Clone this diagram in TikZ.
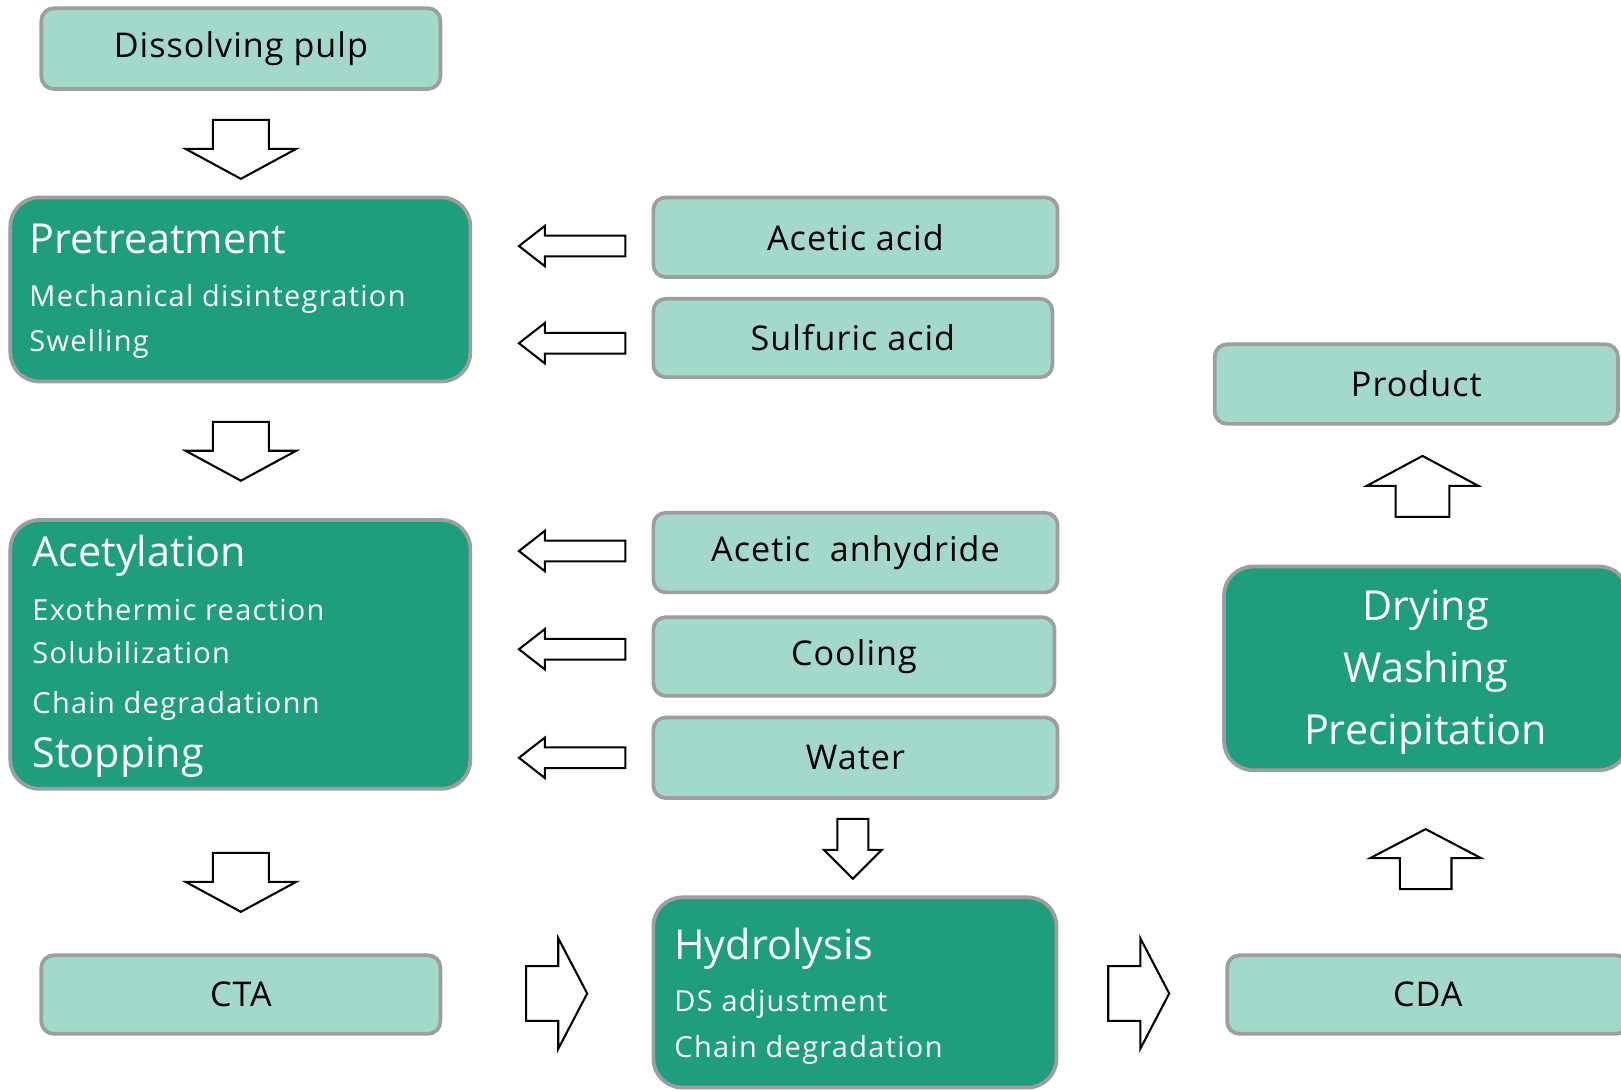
\documentclass[tikz,border=0pt]{standalone}
\usepackage{fontspec}
\setmainfont{Open Sans}
\newfontfamily\lightfont[LetterSpace=3]{Open Sans}
\newfontfamily\subfont[LetterSpace=4.5]{Open Sans}
\definecolor{lightg}{RGB}{163,217,203}
\definecolor{darkg}{RGB}{30,158,124}
\definecolor{bord}{RGB}{158,158,158}
\tikzset{
  lbox/.style={draw=bord, line width=1.8pt, fill=lightg, rounded corners=6pt, inner sep=0pt, outer sep=0pt, text=black, font=\lightfont\fontsize{16.5}{18}\selectfont},
  dbox/.style={draw=bord, line width=1.8pt, fill=darkg, rounded corners=14pt, inner sep=0pt, outer sep=0pt},
  ttl/.style={text=white, anchor=base west, inner sep=0pt, font=\fontsize{20}{22}\selectfont},
  sub/.style={text=white, anchor=base west, inner sep=0pt, font=\subfont\fontsize{14}{16}\selectfont},
  ctr/.style={text=white, anchor=base, inner sep=0pt, font=\fontsize{20}{22}\selectfont},
  blk/.style={draw=black, line width=1pt, fill=white, line join=miter}
}
% box from corners: style, name, x1, y1, x2, y2, text
\newcommand{\bx}[7]{%
  \node[#1, minimum width={(#5-#3)*0.5pt}, minimum height={(#6-#4)*0.5pt}]
    (#2) at ({(#3+#5)/2},{(#4+#6)/2}) {#7};}
% tip x, tip y, rotation, head length, head half width, shaft length, shaft half width
\newcommand{\barrow}[7]{%
  \draw[blk, shift={(#1,#2)}, rotate=#3] (0,0) -- (-#4,#5) -- (-#4,#7) -- (-#4-#6,#7)
    -- (-#4-#6,-#7) -- (-#4,-#7) -- (-#4,-#5) -- cycle;}
\begin{document}
\begin{tikzpicture}[x=0.5pt, y=-0.5pt]
\useasboundingbox (0,0) rectangle (1568,1055);
\clip (0,0) rectangle (1568,1055);
\fill[white] (0,0) rectangle (1568,1055);

% left column
\bx{lbox}{dp}{40}{8}{426}{86}{Dissolving pulp}
\bx{dbox}{pre}{10}{191}{455}{369}{}
\node[ttl] (preT) at (28,245) {Pretreatment};
\node[sub] (preA) at (28,296) {Mechanical disintegration};
\node[sub] (preB) at (28,340) {Swelling};

\bx{dbox}{acy}{10}{503}{455}{763}{}
\node[ttl] (acyT) at (31,548) {Acetylation};
\node[sub] (acyA) at (31,600) {Exothermic reaction};
\node[sub] (acyB) at (31,642) {Solubilization};
\node[sub] (acyC) at (31,690) {Chain degradationn};
\node[ttl] (acyD) at (31,742) {Stopping};

\bx{lbox}{cta}{40}{924}{426}{1000}{CTA}

% middle column
\bx{lbox}{aa}{632}{191}{1023}{268}{Acetic acid}
\bx{lbox}{sa}{632}{289}{1018}{365}{Sulfuric acid}
\bx{lbox}{an}{632}{496}{1023}{573}{Acetic\ \ anhydride}
\bx{lbox}{co}{632}{597}{1020}{673}{Cooling}
\bx{lbox}{wa}{632}{694}{1023}{772}{Water}

\bx{dbox}{hyd}{632}{868}{1022}{1052}{}
\node[ttl] (hydT) at (652,928) {Hydrolysis};
\node[sub] (hydA) at (652,978) {DS adjustment};
\node[sub] (hydB) at (652,1023) {Chain degradation};

% right column
\bx{lbox}{prod}{1175}{333}{1565}{410}{Product}
\bx{dbox}{dry}{1184}{548}{1575}{745}{}
\node[ctr] (dryA) at (1379,600) {Drying};
\node[ctr] (dryB) at (1379,660) {Washing};
\node[ctr] (dryC) at (1379,720) {Precipitation};
\bx{lbox}{cda}{1187}{924}{1575}{1000}{CDA}

% block arrows, left column (down)
\barrow{233}{173}{-90}{29}{53.5}{28}{27}
\barrow{233}{465}{-90}{29}{53.5}{28}{27}
\barrow{233}{882}{-90}{29}{53.5}{28}{27}

% block arrows pointing left
\barrow{502}{238}{180}{25}{19.5}{78}{10}
\barrow{502}{332}{180}{25}{19.5}{78}{10}
\barrow{502}{533}{180}{25}{19.5}{78}{10}
\barrow{502}{628}{180}{25}{19.5}{78}{10}
\barrow{502}{733}{180}{25}{19.5}{78}{10}

% water -> hydrolysis
\barrow{825}{850}{-90}{28}{28}{30}{15}

% right arrows
\barrow{568}{961}{0}{28}{53.5}{31}{26.5}
\barrow{1131}{961}{0}{28}{53.5}{31}{26.5}

% up arrows
\barrow{1379}{802}{90}{28}{53.5}{30}{25}
\barrow{1376}{441}{90}{29}{54}{30}{26}
\end{tikzpicture}
\end{document}
